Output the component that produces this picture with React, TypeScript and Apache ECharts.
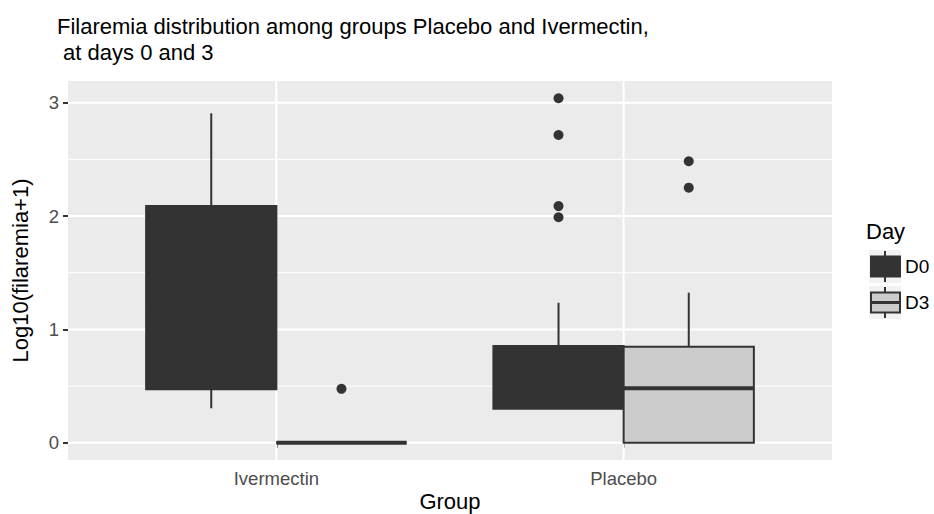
import React, { useEffect, useRef } from "react";
import * as echarts from "echarts";

// ---------- data ----------
const groups = ["Ivermectin", "Placebo"];
const days = ["D0", "D3"];
// per group: [lower whisker, Q1, median, Q3, upper whisker]
const d0Stats = [
  [0.304, 0.471, 1.2, 2.089, 2.906],
  [0.301, 0.301, 0.602, 0.853, 1.235],
];
const d3Stats = [
  [0, 0, 0, 0, 0],
  [0, 0, 0.48, 0.847, 1.324],
];
const d0Outliers = [[], [3.039, 2.715, 2.088, 1.989]];
const d3Outliers = [[0.476], [2.483, 2.25]];
const yTicks = [0, 1, 2, 3];
const yMinor = [0.5, 1.5, 2.5];
const dayFills = ["#333333", "#CCCCCC"];

const FONT = "Liberation Sans, Arial, Helvetica, sans-serif";
const BOX_W = 0.375; // width of one box in category units (dodge 0.75 / 2)
const OUTLINE = "#333333";

function offsetFor(dayIdx: number) {
  return dayIdx === 0 ? -BOX_W / 2 : BOX_W / 2;
}

function boxSeries(stats: number[][], dayIdx: number) {
  return {
    type: "custom",
    name: days[dayIdx],
    z: 5,
    silent: true,
    encode: { x: 0, y: [1, 2, 3, 4, 5] },
    data: stats.map((s, gi) => [gi + 1, ...s]),
    renderItem: (params: any, api: any) => {
      const xc = api.value(0) + offsetFor(dayIdx);
      const lo = api.value(1);
      const q1 = api.value(2);
      const med = api.value(3);
      const q3 = api.value(4);
      const hi = api.value(5);
      const pLo = api.coord([xc, lo]);
      const pHi = api.coord([xc, hi]);
      const pQ1 = api.coord([xc - BOX_W / 2, q1]);
      const pQ3 = api.coord([xc + BOX_W / 2, q3]);
      const pQ1c = api.coord([xc, q1]);
      const pQ3c = api.coord([xc, q3]);
      const mL = api.coord([xc - BOX_W / 2, med]);
      const mR = api.coord([xc + BOX_W / 2, med]);
      return {
        type: "group",
        children: [
          {
            type: "line",
            shape: { x1: pQ3c[0], y1: pQ3c[1], x2: pHi[0], y2: pHi[1] },
            style: { stroke: OUTLINE, lineWidth: 2 },
          },
          {
            type: "line",
            shape: { x1: pQ1c[0], y1: pQ1c[1], x2: pLo[0], y2: pLo[1] },
            style: { stroke: OUTLINE, lineWidth: 2 },
          },
          {
            type: "rect",
            shape: {
              x: pQ1[0],
              y: pQ3[1],
              width: pQ3[0] - pQ1[0],
              height: pQ1[1] - pQ3[1],
            },
            style: { fill: dayFills[dayIdx], stroke: OUTLINE, lineWidth: 2 },
          },
          {
            type: "line",
            shape: { x1: mL[0], y1: mL[1], x2: mR[0], y2: mR[1] },
            style: { stroke: OUTLINE, lineWidth: 4, lineCap: "butt" },
          },
        ],
      };
    },
  };
}

function outlierSeries(outs: number[][], dayIdx: number) {
  return {
    type: "scatter",
    name: days[dayIdx] + " outliers",
    z: 6,
    silent: true,
    symbol: "circle",
    symbolSize: 10,
    itemStyle: { color: OUTLINE, opacity: 1 },
    data: outs.flatMap((vals, gi) => vals.map((v) => [gi + 1 + offsetFor(dayIdx), v])),
  };
}

function hGridSeries() {
  const data = [
    ...yTicks.map((v) => [1, v, 2]),
    ...yMinor.map((v) => [1, v, 1]),
  ];
  return {
    type: "custom",
    z: 1,
    silent: true,
    encode: { x: 0, y: 1 },
    data,
    renderItem: (params: any, api: any) => {
      const cs = params.coordSys;
      const y = api.coord([api.value(0), api.value(1)])[1];
      return {
        type: "line",
        shape: { x1: cs.x, y1: y, x2: cs.x + cs.width, y2: y },
        style: { stroke: "#FFFFFF", lineWidth: api.value(2) },
      };
    },
  };
}

function vGridSeries() {
  return {
    type: "custom",
    z: 1,
    silent: true,
    encode: { x: 0, y: 1 },
    data: groups.map((_, i) => [i + 1, 0]),
    renderItem: (params: any, api: any) => {
      const cs = params.coordSys;
      const x = api.coord([api.value(0), api.value(1)])[0];
      return {
        type: "line",
        shape: { x1: x, y1: cs.y, x2: x, y2: cs.y + cs.height },
        style: { stroke: "#FFFFFF", lineWidth: 2 },
      };
    },
  };
}

function legendGraphics() {
  const kx = 869;
  const keys = [
    { top: 250, label: days[0], fill: dayFills[0], median: false },
    { top: 286, label: days[1], fill: dayFills[1], median: true },
  ];
  const children: any[] = [
    {
      type: "text",
      left: 866,
      top: 220,
      style: { text: "Day", font: `22px ${FONT}`, fill: "#000000" },
    },
  ];
  keys.forEach((k) => {
    const h = 33;
    const bx = kx + 2;
    const bw = 29;
    const by = k.top + 6.5;
    const bh = 20;
    const cx = kx + 16;
    children.push(
      { type: "rect", shape: { x: kx, y: k.top, width: 32, height: h }, style: { fill: "#F2F2F2" } },
      { type: "line", shape: { x1: cx, y1: k.top + 1, x2: cx, y2: by }, style: { stroke: OUTLINE, lineWidth: 2 } },
      { type: "line", shape: { x1: cx, y1: by + bh, x2: cx, y2: k.top + h - 1 }, style: { stroke: OUTLINE, lineWidth: 2 } },
      { type: "rect", shape: { x: bx, y: by, width: bw, height: bh }, style: { fill: k.fill, stroke: OUTLINE, lineWidth: 2 } },
    );
    if (k.median) {
      children.push({
        type: "line",
        shape: { x1: bx, y1: by + bh / 2, x2: bx + bw, y2: by + bh / 2 },
        style: { stroke: OUTLINE, lineWidth: 3 },
      });
    }
    children.push({
      type: "text",
      left: 905,
      top: k.top + h / 2 - 10,
      style: { text: k.label, font: `19px ${FONT}`, fill: "#000000" },
    });
  });
  return children;
}

export default function App() {
  const ref = useRef<HTMLDivElement>(null);
  useEffect(() => {
    if (!ref.current) return;
    const chart = echarts.init(ref.current, undefined, { renderer: "svg" });
    chart.setOption({
      animation: false,
      backgroundColor: "#FFFFFF",
      textStyle: { fontFamily: FONT },
      title: {
        text: "Filaremia distribution among groups Placebo and Ivermectin,\n at days 0 and 3",
        left: 52,
        top: 8,
        textStyle: {
          fontFamily: FONT,
          fontSize: 22,
          fontWeight: "normal",
          color: "#000000",
          lineHeight: 26,
        },
      },
      grid: {
        left: 68,
        top: 81,
        width: 764,
        height: 379,
        show: true,
        backgroundColor: "#EBEBEB",
        borderWidth: 0,
        containLabel: false,
        outerBoundsMode: "none",
      },
      xAxis: {
        type: "value",
        min: 0.4,
        max: 2.6,
        name: "Group",
        nameLocation: "middle",
        nameGap: 30,
        nameMoveOverlap: false,
        nameTextStyle: { fontFamily: FONT, fontSize: 22, lineHeight: 22, color: "#000000" },
        axisLine: { show: false },
        axisTick: {
          show: true,
          length: 5,
          lineStyle: { color: "#333333", width: 2 },
          customValues: groups.map((_, i) => i + 1),
        },
        axisLabel: {
          show: true,
          margin: 9,
          fontSize: 18.5,
          color: "#4D4D4D",
          fontFamily: FONT,
          customValues: groups.map((_, i) => i + 1),
          formatter: (v: number) => groups[Math.round(v) - 1] ?? "",
        },
        splitLine: { show: false },
      },
      yAxis: {
        type: "value",
        min: -0.152,
        max: 3.191,
        name: "Log10(filaremia+1)",
        nameLocation: "middle",
        nameRotate: 90,
        nameGap: 37,
        nameMoveOverlap: false,
        nameTextStyle: { fontFamily: FONT, fontSize: 22, color: "#000000" },
        axisLine: { show: false },
        axisTick: {
          show: true,
          length: 5,
          lineStyle: { color: "#333333", width: 2 },
          customValues: yTicks,
        },
        axisLabel: {
          show: true,
          margin: 9,
          fontSize: 18.5,
          color: "#4D4D4D",
          fontFamily: FONT,
          customValues: yTicks,
        },
        splitLine: { show: false },
      },
      graphic: legendGraphics(),
      series: [
        hGridSeries(),
        vGridSeries(),
        boxSeries(d0Stats, 0),
        boxSeries(d3Stats, 1),
        outlierSeries(d0Outliers, 0),
        outlierSeries(d3Outliers, 1),
      ],
    });
    return () => chart.dispose();
  }, []);
  return (
    <div
      ref={ref}
      style={{ position: "fixed", left: 0, top: 0, width: 934, height: 514 }}
    />
  );
}
